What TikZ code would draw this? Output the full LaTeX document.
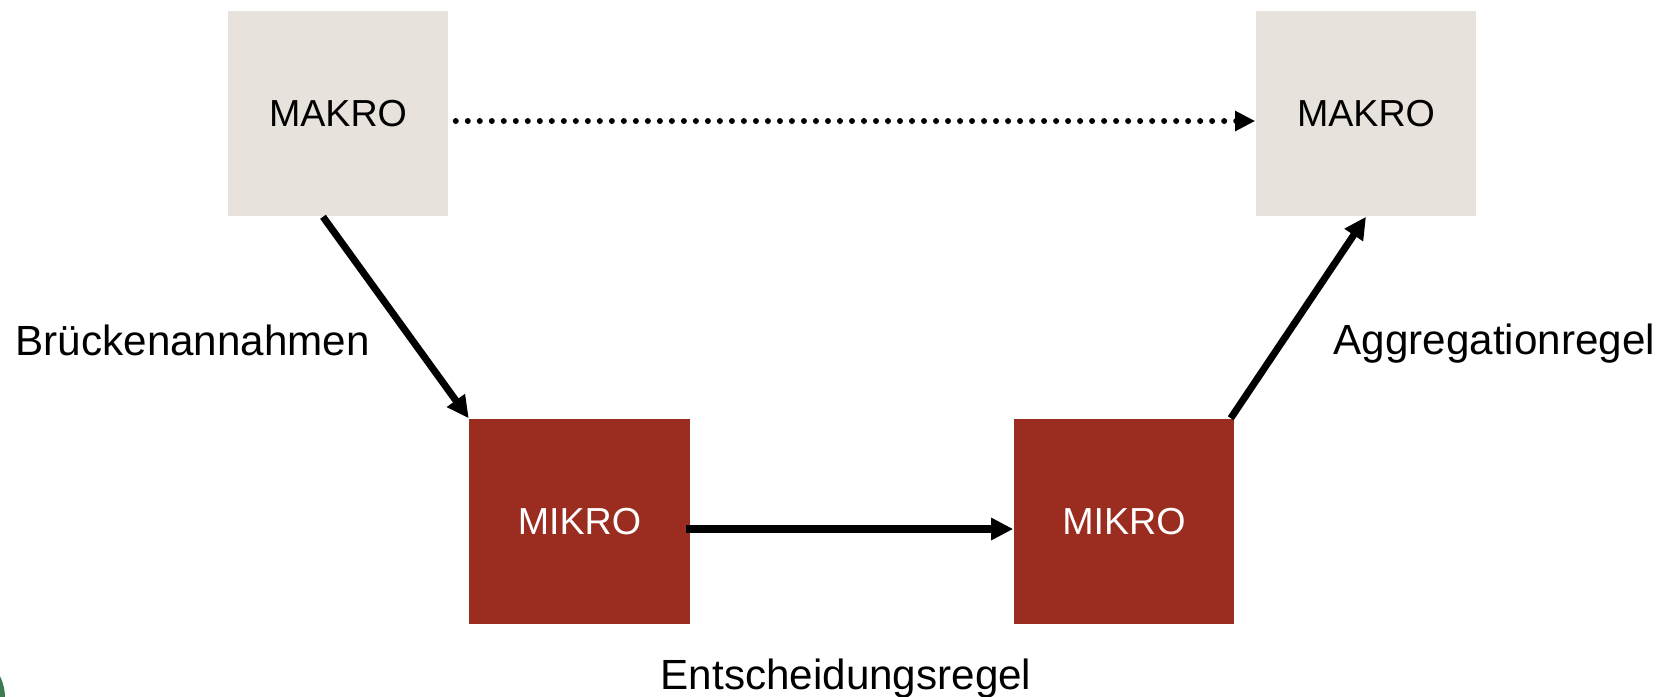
\documentclass[tikz,border=0pt]{standalone}
\usepackage{fontspec}
\setmainfont{Liberation Sans}
\usetikzlibrary{arrows.meta}
\definecolor{makrograu}{HTML}{E7E3DC}
\definecolor{mikrorot}{HTML}{9A2D20}
\definecolor{eckgruen}{HTML}{3E7B50}
\begin{document}
\begin{tikzpicture}[x=0.01cm,y=-0.01cm,
	    makro/.style={fill=makrograu,minimum width=2.2cm,minimum height=2.05cm,inner sep=0pt,font=\fontsize{10.7}{13}\selectfont},
	    mikro/.style={makro,fill=mikrorot,text=white},
	    regel/.style={inner sep=0pt,anchor=base west,font=\fontsize{12}{14}\selectfont},
	    pfeil/.style={line width=2pt,-{Triangle[length=0.22cm,width=0.21cm]}}]
	    \useasboundingbox (0,0) rectangle (1668,696);
	    \fill[eckgruen] (-45,698) circle (0.5cm);
	    % boxes
	    \node[makro](makroL) at (338,113.5){MAKRO};
	    \node[makro](makroR) at (1366,113.5){MAKRO};
	    \node[mikro](mikroL) at (579.5,521.5){MIKRO};
	    \node[mikro](mikroR) at (1124,521.5){MIKRO};
	    % arrows
	    \draw[line width=1.7pt,line cap=round,dash pattern=on 0pt off 0.12cm,-{Triangle[length=0.2cm,width=0.19cm]}]([xshift=0.07cm,yshift=-0.075cm]makroL.east)--([yshift=-0.075cm]makroR.west);
	    \draw[pfeil]([xshift=-0.15cm]makroL.south)--(mikroL.north west);
	    \draw[pfeil]([xshift=-0.04cm,yshift=-0.075cm]mikroL.east)--([yshift=-0.075cm]mikroR.west);
	    \draw[pfeil]([xshift=-0.04cm]mikroR.north east)--(makroR.south);
	    % labels
	    \node[regel](bruecke) at (15,355){Brückenannahmen};
	    \node[regel](aggregation) at (1333,354){Aggregationregel};
	    \node[regel](entscheidung) at (660,689){Entscheidungsregel};
	\end{tikzpicture}
\end{document}
